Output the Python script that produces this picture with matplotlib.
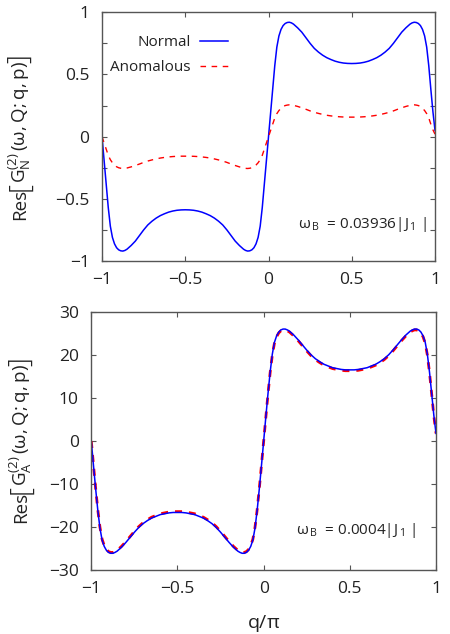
import numpy as np
import matplotlib
matplotlib.use('Agg')
import matplotlib.pyplot as plt

# ================================
# Data
# ================================
q = [-1.0, -0.9875, -0.975, -0.9625, -0.95, -0.9375, -0.925, -0.9125, -0.9, -0.8875,
     -0.875, -0.8625, -0.85, -0.825, -0.8, -0.775, -0.75, -0.725, -0.7, -0.675,
     -0.65, -0.625, -0.6, -0.575, -0.55, -0.525, -0.5, -0.475, -0.45, -0.425,
     -0.4, -0.375, -0.35, -0.325, -0.3, -0.275, -0.25, -0.225, -0.2, -0.175,
     -0.15, -0.1375, -0.125, -0.1125, -0.1, -0.0875, -0.075, -0.0625, -0.05, -0.0375,
     -0.025, -0.0125, 0.0, 0.0125, 0.025, 0.0375, 0.05, 0.0625, 0.075, 0.0875,
     0.1, 0.1125, 0.125, 0.1375, 0.15, 0.175, 0.2, 0.225, 0.25, 0.275,
     0.3, 0.325, 0.35, 0.375, 0.4, 0.425, 0.45, 0.475, 0.5, 0.525,
     0.55, 0.575, 0.6, 0.625, 0.65, 0.675, 0.7, 0.725, 0.75, 0.775,
     0.8, 0.825, 0.85, 0.8625, 0.875, 0.8875, 0.9, 0.9125, 0.925, 0.9375,
     0.95, 0.9625, 0.975, 0.9875, 1.0]

# top panel, omega_B = 0.03936|J1|
normal_top = [0.0, -0.19, -0.38, -0.57, -0.72, -0.81, -0.862, -0.893, -0.91, -0.918,
              -0.92, -0.915, -0.905, -0.875, -0.84, -0.795, -0.75, -0.71, -0.68, -0.655,
              -0.635, -0.62, -0.607, -0.598, -0.592, -0.589, -0.588, -0.589, -0.592, -0.598,
              -0.607, -0.62, -0.635, -0.655, -0.68, -0.71, -0.75, -0.795, -0.84, -0.875,
              -0.905, -0.915, -0.92, -0.918, -0.91, -0.893, -0.862, -0.81, -0.72, -0.57,
              -0.38, -0.19, 0.0, 0.19, 0.38, 0.57, 0.72, 0.81, 0.862, 0.893,
              0.91, 0.918, 0.92, 0.915, 0.905, 0.875, 0.84, 0.795, 0.75, 0.71,
              0.68, 0.655, 0.635, 0.62, 0.607, 0.598, 0.592, 0.589, 0.588, 0.589,
              0.592, 0.598, 0.607, 0.62, 0.635, 0.655, 0.68, 0.71, 0.75, 0.795,
              0.84, 0.875, 0.905, 0.915, 0.92, 0.918, 0.91, 0.893, 0.862, 0.81,
              0.72, 0.57, 0.38, 0.2, 0.05]

anomalous_top = [0.0, -0.05, -0.1, -0.15, -0.185, -0.21, -0.228, -0.242, -0.25, -0.254,
                 -0.256, -0.255, -0.252, -0.243, -0.232, -0.22, -0.207, -0.196, -0.187, -0.179,
                 -0.172, -0.167, -0.163, -0.16, -0.158, -0.157, -0.157, -0.157, -0.158, -0.16,
                 -0.163, -0.167, -0.172, -0.179, -0.187, -0.196, -0.207, -0.22, -0.232, -0.243,
                 -0.252, -0.255, -0.256, -0.254, -0.25, -0.242, -0.228, -0.21, -0.185, -0.15,
                 -0.1, -0.05, 0.0, 0.05, 0.1, 0.15, 0.185, 0.21, 0.228, 0.242,
                 0.25, 0.254, 0.256, 0.255, 0.252, 0.243, 0.232, 0.22, 0.207, 0.196,
                 0.187, 0.179, 0.172, 0.167, 0.163, 0.16, 0.158, 0.157, 0.157, 0.157,
                 0.158, 0.16, 0.163, 0.167, 0.172, 0.179, 0.187, 0.196, 0.207, 0.22,
                 0.232, 0.243, 0.252, 0.255, 0.256, 0.254, 0.25, 0.242, 0.228, 0.21,
                 0.185, 0.15, 0.1, 0.055, 0.02]

# bottom panel, omega_B = 0.0004|J1|
normal_bot = [0.0, -5.6, -11.0, -16.0, -20.2, -23.0, -24.5, -25.4, -25.9, -26.1,
              -26.1, -25.9, -25.6, -24.7, -23.6, -22.4, -21.2, -20.1, -19.2, -18.5,
              -17.9, -17.5, -17.1, -16.9, -16.7, -16.6, -16.6, -16.6, -16.7, -16.9,
              -17.1, -17.5, -17.9, -18.5, -19.2, -20.1, -21.2, -22.4, -23.6, -24.7,
              -25.6, -25.9, -26.1, -26.1, -25.9, -25.4, -24.5, -23.0, -20.2, -16.0,
              -11.0, -5.6, 0.0, 5.6, 11.0, 16.0, 20.2, 23.0, 24.5, 25.4,
              25.9, 26.1, 26.1, 25.9, 25.6, 24.7, 23.6, 22.4, 21.2, 20.1,
              19.2, 18.5, 17.9, 17.5, 17.1, 16.9, 16.7, 16.6, 16.6, 16.6,
              16.7, 16.9, 17.1, 17.5, 17.9, 18.5, 19.2, 20.1, 21.2, 22.4,
              23.6, 24.7, 25.6, 25.9, 26.1, 26.1, 25.9, 25.4, 24.5, 23.0,
              20.2, 16.0, 11.0, 6.0, 1.8]

anomalous_bot = [0.0, -5.5, -10.9, -15.9, -20.0, -22.8, -24.3, -25.2, -25.7, -25.9,
                 -25.9, -25.7, -25.4, -24.5, -23.4, -22.2, -21.0, -19.9, -19.0, -18.3,
                 -17.7, -17.3, -16.9, -16.7, -16.5, -16.4, -16.4, -16.4, -16.5, -16.7,
                 -16.9, -17.3, -17.7, -18.3, -19.0, -19.9, -21.0, -22.2, -23.4, -24.5,
                 -25.4, -25.7, -25.9, -25.9, -25.7, -25.2, -24.3, -22.8, -20.0, -15.9,
                 -10.9, -5.5, 0.0, 5.5, 10.9, 15.9, 20.0, 22.8, 24.3, 25.2,
                 25.7, 25.9, 25.9, 25.7, 25.4, 24.5, 23.4, 22.2, 21.0, 19.9,
                 19.0, 18.3, 17.7, 17.3, 16.9, 16.7, 16.5, 16.4, 16.4, 16.4,
                 16.5, 16.7, 16.9, 17.3, 17.7, 18.3, 19.0, 19.9, 21.0, 22.2,
                 23.4, 24.5, 25.4, 25.7, 25.9, 25.9, 25.7, 25.2, 24.3, 22.8,
                 20.0, 15.9, 10.9, 5.9, 1.8]

x_ticks = [-1, -0.5, 0, 0.5, 1]
x_labels = ['\u22121', '\u22120.5', '0', '0.5', '1']
y_ticks_top = [-1, -0.75, -0.5, -0.25, 0, 0.25, 0.5, 0.75, 1]
y_labels_top = ['\u22121', '', '\u22120.5', '', '0', '', '0.5', '', '1']
y_ticks_bot = [-30, -20, -10, 0, 10, 20, 30]
y_labels_bot = ['\u221230', '\u221220', '\u221210', '0', '10', '20', '30']

# ================================
# Style
# ================================
FONT = 'Open Sans'
plt.rcParams['font.family'] = [FONT, 'DejaVu Sans']
plt.rcParams['mathtext.fontset'] = 'custom'
plt.rcParams['mathtext.rm'] = FONT
plt.rcParams['mathtext.it'] = FONT
plt.rcParams['mathtext.bf'] = FONT + ':bold'
plt.rcParams['axes.edgecolor'] = '#555555'
plt.rcParams['axes.linewidth'] = 1.0

SPINE = '#555555'
TEXT = '#222222'
W, H = 450, 634


def style_axes(ax, yticks, ylabels):
    ax.set_xlim(-1, 1)
    ax.set_xticks(x_ticks)
    ax.set_xticklabels(x_labels)
    ax.set_yticks(yticks)
    ax.set_yticklabels(ylabels)
    ax.set_ylim(yticks[0], yticks[-1])
    ax.tick_params(direction='in', top=True, right=True, length=3.5,
                   width=0.8, color=SPINE, labelsize=12.5, pad=8,
                   labelcolor=TEXT)
    ax.tick_params(axis='y', pad=9)


def stacked_ylabel(fig, pieces, x_px, yc_px):
    """Vertical label built from pieces (so the brackets can be taller)"""
    renderer = fig.canvas.get_renderer()
    texts = []
    for s, size, weight, trim in pieces:
        t = fig.text(x_px / W, 0.5, s, rotation=90, fontsize=size, color=TEXT,
                     fontweight=weight, ha='center', va='bottom')
        texts.append((t, trim))
    heights = [t.get_window_extent(renderer).height - trim for t, trim in texts]
    y = (H - yc_px) - sum(heights) / 2
    for (t, trim), h in zip(texts, heights):
        t.set_position((x_px / W, (y - trim / 2) / H))
        y += h


fig = plt.figure(figsize=(4.5, 6.34), dpi=100)
ax1 = fig.add_axes([0.2267, 0.5883, 0.74, 0.3923])
ax2 = fig.add_axes([0.2029, 0.1009, 0.766, 0.4065])

# top panel
ax1.plot(q, normal_top, color='blue', lw=1.1, label='Normal')
ax1.plot(q, anomalous_top, color='red', lw=1.0, dashes=(4, 4), label='Anomalous')
style_axes(ax1, y_ticks_top, y_labels_top)
leg = ax1.legend(loc='upper right', bbox_to_anchor=(0.378, 0.907), frameon=False,
                 markerfirst=False, fontsize=11, handlelength=1.85,
                 handletextpad=0.6, labelspacing=0.65, borderpad=0, borderaxespad=0)
for t in leg.get_texts():
    t.set_color(TEXT)
ax1.text(0.976, 0.145, r'$\omega_{\,\mathrm{B}}$  = 0.03936|J$_{\,1}$ |', transform=ax1.transAxes,
         ha='right', va='center', fontsize=11, color=TEXT)

# bottom panel
ax2.plot(q, anomalous_bot, color='red', lw=2.0, dashes=(2.5, 2.5))
ax2.plot(q, normal_bot, color='blue', lw=1.1)
style_axes(ax2, y_ticks_bot, y_labels_bot)
ax2.set_xlabel(r'q/$\pi$', fontsize=14, color=TEXT)
ax2.xaxis.set_label_coords(0.5, -0.165)
ax2.text(0.942, 0.155, r'$\omega_{\,\mathrm{B}}$  = 0.0004|J$_{\,1}$ |', transform=ax2.transAxes,
         ha='right', va='center', fontsize=11, color=TEXT)

# y labels
stacked_ylabel(fig, [('Res', 13.5, 'normal', 0), ('[', 20, 'light', 3),
                     (r'$\mathrm{G}_\mathrm{N}^{(2)}\,(\omega,\mathrm{Q};\mathrm{q},\mathrm{p})$', 13.5, 'normal', 0),
                     (']', 20, 'light', 3)], 20, 138)
stacked_ylabel(fig, [('Res', 13.5, 'normal', 0), ('[', 20, 'light', 3),
                     (r'$\mathrm{G}_\mathrm{A}^{(2)}\,(\omega,\mathrm{Q};\mathrm{q},\mathrm{p})$', 13.5, 'normal', 0),
                     (']', 20, 'light', 3)], 21, 441)

fig.savefig('out.png', dpi=100)
